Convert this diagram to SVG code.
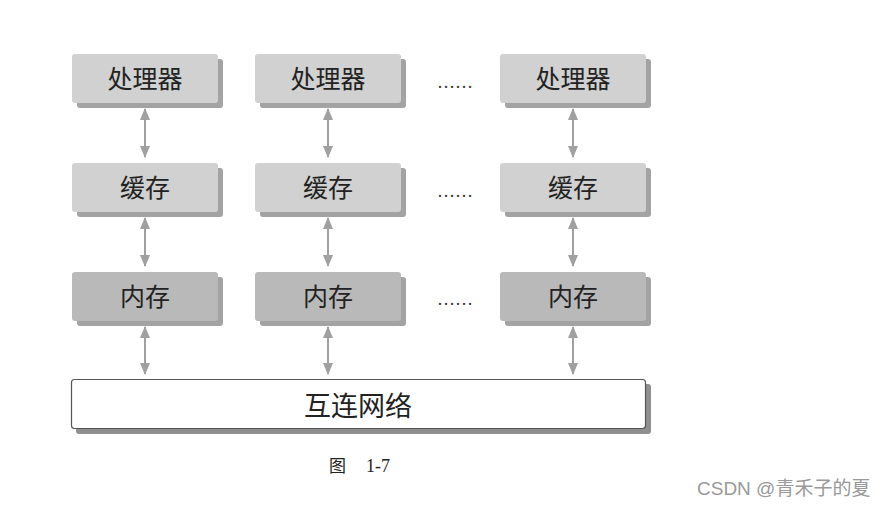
<svg xmlns="http://www.w3.org/2000/svg" width="883" height="506" viewBox="0 0 883 506">
<style>
.sh{fill:#a3a3a3}
.lt{fill:#d0d1d0}
.dk{fill:#b8b9b8}
.lbl{font-family:"Noto Sans CJK SC","Noto Sans CJK JP",sans-serif;font-size:25px;fill:#222;text-anchor:middle}
.dots{font-family:"Liberation Serif",serif;font-size:18px;fill:#333;text-anchor:middle}
.conn line{stroke:#a0a0a0;stroke-width:2;marker-start:url(#ah);marker-end:url(#ah)}
</style>
<defs>
<marker id="ah" viewBox="0 0 12 10" refX="11" refY="5" markerWidth="12" markerHeight="10" markerUnits="userSpaceOnUse" orient="auto-start-reverse">
<path d="M0,0 L12,5 L0,10 z" fill="#a0a0a0"/>
</marker>
</defs>
<rect width="883" height="506" fill="#fff"/>
<g id="p1"><rect class="sh" x="77" y="59" width="146" height="49" rx="3"/><rect class="lt" x="72" y="54" width="146" height="49" rx="3"/><text class="lbl" x="145" y="88">处理器</text></g>
<g id="p2"><rect class="sh" x="260" y="59" width="146" height="49" rx="3"/><rect class="lt" x="255" y="54" width="146" height="49" rx="3"/><text class="lbl" x="328" y="88">处理器</text></g>
<g id="p3"><rect class="sh" x="505" y="59" width="146" height="49" rx="3"/><rect class="lt" x="500" y="54" width="146" height="49" rx="3"/><text class="lbl" x="573" y="88">处理器</text></g>
<g id="c1"><rect class="sh" x="77" y="168" width="146" height="49" rx="3"/><rect class="lt" x="72" y="163" width="146" height="49" rx="3"/><text class="lbl" x="145" y="197">缓存</text></g>
<g id="c2"><rect class="sh" x="260" y="168" width="146" height="49" rx="3"/><rect class="lt" x="255" y="163" width="146" height="49" rx="3"/><text class="lbl" x="328" y="197">缓存</text></g>
<g id="c3"><rect class="sh" x="505" y="168" width="146" height="49" rx="3"/><rect class="lt" x="500" y="163" width="146" height="49" rx="3"/><text class="lbl" x="573" y="197">缓存</text></g>
<g id="m1"><rect class="sh" x="77" y="277" width="146" height="49" rx="3"/><rect class="dk" x="72" y="272" width="146" height="49" rx="3"/><text class="lbl" x="145" y="306">内存</text></g>
<g id="m2"><rect class="sh" x="260" y="277" width="146" height="49" rx="3"/><rect class="dk" x="255" y="272" width="146" height="49" rx="3"/><text class="lbl" x="328" y="306">内存</text></g>
<g id="m3"><rect class="sh" x="505" y="277" width="146" height="49" rx="3"/><rect class="dk" x="500" y="272" width="146" height="49" rx="3"/><text class="lbl" x="573" y="306">内存</text></g>
<g id="net"><rect x="76" y="384" width="575" height="50" rx="3" fill="#8f8f8f"/><rect x="71.5" y="379.5" width="574" height="49" rx="3" fill="#fff" stroke="#555" stroke-width="1.2"/><text class="lbl" x="358" y="416" style="font-size:27px">互连网络</text></g>
<g id="dots"><text class="dots" x="455" y="88">……</text><text class="dots" x="455" y="197">……</text><text class="dots" x="455" y="305">……</text></g>
<g class="conn" id="connectors">
<line x1="145" y1="109" x2="145" y2="157"/>
<line x1="328" y1="109" x2="328" y2="157"/>
<line x1="573" y1="109" x2="573" y2="157"/>
<line x1="145" y1="218" x2="145" y2="266"/>
<line x1="328" y1="218" x2="328" y2="266"/>
<line x1="573" y1="218" x2="573" y2="266"/>
<line x1="145" y1="327" x2="145" y2="374"/>
<line x1="328" y1="327" x2="328" y2="374"/>
<line x1="573" y1="327" x2="573" y2="374"/>
</g>
<text x="329" y="472" font-family="'Noto Sans CJK SC',sans-serif" font-size="17" fill="#222">图</text>
<text x="366" y="472" font-family="'Liberation Serif',serif" font-size="18" fill="#222">1-7</text>
<text x="697" y="495" font-family="'Liberation Sans','Noto Sans CJK SC',sans-serif" font-size="19" fill="#999">CSDN @青禾子的夏</text>
</svg>
